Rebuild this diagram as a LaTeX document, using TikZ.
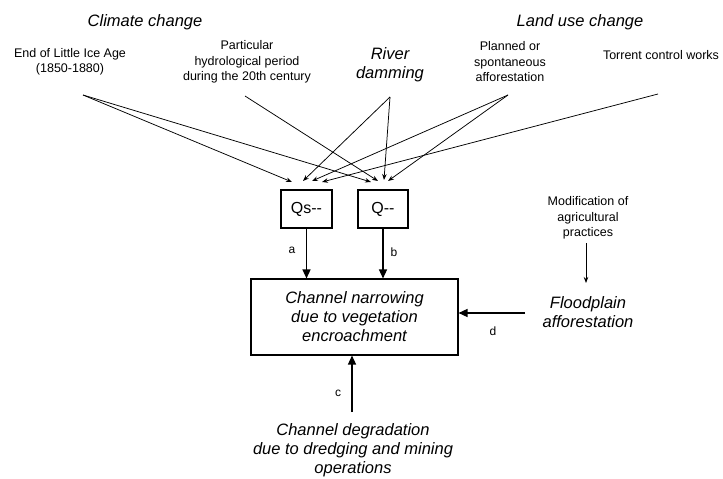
\documentclass[tikz,border=0pt]{standalone}
\usepackage{fontspec}
\setmainfont{Liberation Sans}
\usetikzlibrary{arrows.meta}
\begin{document}
\begin{tikzpicture}[x=1pt,y=-1pt,
  small/.style={font=\fontsize{12.5}{15.5}\selectfont, align=center, inner sep=0pt},
  big/.style={font=\fontsize{16.5}{19}\selectfont\itshape, align=center, inner sep=0pt},
  lbl/.style={font=\fontsize{12}{14}\selectfont, inner sep=0pt},
  thinarrow/.style={line width=0.75pt, -{Stealth[length=6pt,width=4.5pt]}},
  thickarrow/.style={line width=1.4pt, -{Triangle[length=9pt,width=8pt]}},
  boxstyle/.style={draw, line width=1.1pt, inner sep=0pt}]
\useasboundingbox (0,0) rectangle (723,479);
% headings
\node[big] (climate) at (145,22) {Climate change};
\node[big] (landuse) at (580,22) {Land use change};
% sources
\node[small] (elia) at (70,62) {End of Little Ice Age\\(1850-1880)};
\node[small] (part) at (247,62) {Particular\\hydrological period\\during the 20th century};
\node[big] (river) at (390,65) {River\\damming};
\node[small] (plan) at (510,62) {Planned or\\spontaneous\\afforestation};
\node[small] (torr) at (661,55) {Torrent control works};
% line origins
\coordinate (eliaO) at (83,95);
\coordinate (partO) at (245,96);
\coordinate (riverO) at (390,97);
\coordinate (planO) at (508,95);
\coordinate (torrO) at (658,94);
% boxes
\node[boxstyle, minimum width=51pt, minimum height=38pt, font=\fontsize{16}{19}\selectfont] (qs) at (306.5,209) {Qs-{}-};
\node[boxstyle, minimum width=50pt, minimum height=38pt, font=\fontsize{16}{19}\selectfont] (q) at (383,209) {Q-{}-};
\node[boxstyle, minimum width=207pt, minimum height=76pt, align=center, font=\fontsize{16.5}{19}\selectfont\itshape] (main) at (354.5,317) {Channel narrowing\\due to vegetation\\encroachment};
% arrow tips near the small boxes
\coordinate (qs1) at (292,182);
\coordinate (qs2) at (303,181);
\coordinate (qs3) at (312,181);
\coordinate (qs4) at (322,182);
\coordinate (q1) at (371,182);
\coordinate (q2) at (378,181);
\coordinate (q3) at (384,180);
\coordinate (q4) at (388,181);
\draw[thinarrow] (eliaO) -- (qs1);
\draw[thinarrow] (eliaO) -- (q1);
\draw[thinarrow] (partO) -- (q2);
\draw[thinarrow] (riverO) -- (qs2);
\draw[thinarrow] (riverO) -- (q3);
\draw[thinarrow] (planO) -- (qs3);
\draw[thinarrow] (planO) -- (q4);
\draw[thinarrow] (torrO) -- (qs4);
% a and b
\draw[thickarrow] (qs.south) -- (qs.south |- main.north);
\draw[thickarrow] (q.south) -- (q.south |- main.north);
\node[lbl] (la) at (292,250) {a};
\node[lbl] (lb) at (394,252) {b};
% right side
\node[small] (mod) at (588,218) {Modification of\\agricultural\\practices};
\node[big] (fp) at (588,312) {Floodplain\\afforestation};
\coordinate (modO) at (586,243);
\coordinate (modT) at (586,283);
\draw[thinarrow] (modO) -- (modT);
\coordinate (dO) at (525,313);
\draw[thickarrow] (dO) -- (dO -| main.east);
\node[lbl] (ld) at (493,331) {d};
% bottom
\node[big] (deg) at (353,450) {Channel degradation\\due to dredging and mining\\operations};
\coordinate (cO) at (352,412);
\draw[thickarrow] (cO) -- (cO |- main.south);
\node[lbl] (lc) at (338,393) {c};
\end{tikzpicture}
\end{document}
